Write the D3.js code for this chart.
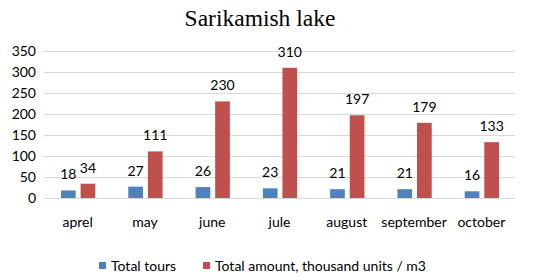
<!DOCTYPE html>
<html>
<head>
<meta charset="utf-8">
<script src="https://cdn.jsdelivr.net/npm/d3@7"></script>
<style>
  body { margin: 0; background: #fff; }
  svg { display: block; }
</style>
</head>
<body>
<div id="chart"></div>
<script>
// Sarikamish lake - grouped bars
const months = ["aprel", "may", "june", "jule", "august", "september", "october"];
const tours = [18, 27, 26, 23, 21, 21, 16];
const amount = [34, 111, 230, 310, 197, 179, 133];
const yTicks = [0, 50, 100, 150, 200, 250, 300, 350];
const seriesNames = ["Total tours", "Total amount, thousand units / m3"];
const colors = ["#4f81bd", "#c0504d"];

const W = 533, H = 278;
const margin = { top: 51, right: 18, bottom: 80, left: 44 };
const width = W - margin.left - margin.right;
const height = H - margin.top - margin.bottom;

const svg = d3.select("#chart").append("svg")
    .attr("width", W)
    .attr("height", H);

svg.append("text")
    .attr("x", 260)
    .attr("y", 26)
    .attr("text-anchor", "middle")
    .attr("font-family", "Liberation Serif, DejaVu Serif, serif")
    .attr("font-size", 23.5)
    .text("Sarikamish lake");

const g = svg.append("g").attr("transform", `translate(${margin.left},${margin.top})`);

const x = d3.scaleBand().domain(months).range([0, width]);
const xInner = d3.scaleBand().domain([0, 1]).range([17, x.bandwidth() - 16]).paddingInner(0.25);
const y = d3.scaleLinear().domain([0, 350]).range([height, 0]);

const font = "Lato, 'Open Sans', sans-serif";
const fs = "14px";

// grid
g.append("g")
    .call(d3.axisLeft(y).tickValues(yTicks).tickSize(-width).tickFormat(""))
    .call(a => a.select(".domain").remove())
    .call(a => a.selectAll("line").attr("stroke", "#d9d9d9"));

// y labels
g.append("g")
    .call(d3.axisLeft(y).tickValues(yTicks).tickSize(0).tickPadding(8))
    .call(a => a.select(".domain").remove())
    .call(a => a.selectAll("text").style("font-family", font).style("font-size", fs).attr("fill", "#000"));

// x labels
g.append("g")
    .attr("transform", `translate(0,${height})`)
    .call(d3.axisBottom(x).tickSize(0).tickPadding(19))
    .call(a => a.select(".domain").attr("stroke", "#d9d9d9"))
    .call(a => a.selectAll("text").style("font-family", font).style("font-size", fs).attr("fill", "#000"));

const data = months.map((m, i) => ({ month: m, values: [tours[i], amount[i]] }));

const groups = g.selectAll(".grp")
    .data(data)
    .enter().append("g")
    .attr("transform", d => `translate(${x(d.month)},0)`);

groups.selectAll("rect")
    .data(d => d.values.map((v, k) => ({ k, v })))
    .enter().append("rect")
    .attr("x", d => xInner(d.k))
    .attr("width", xInner.bandwidth())
    .attr("y", d => y(d.v))
    .attr("height", d => height - y(d.v))
    .attr("fill", d => colors[d.k]);

groups.selectAll("text.val")
    .data(d => d.values.map((v, k) => ({ k, v })))
    .enter().append("text")
    .attr("class", "val")
    .attr("x", d => xInner(d.k) + xInner.bandwidth() / 2)
    .attr("y", d => y(d.v) - 11)
    .attr("text-anchor", "middle")
    .style("font-family", font)
    .style("font-size", fs)
    .text(d => d.v);

// legend
const legendX = [99, 203];
const legend = svg.append("g").attr("transform", "translate(0,266)");
seriesNames.forEach((name, i) => {
    legend.append("rect")
        .attr("x", legendX[i])
        .attr("y", -4)
        .attr("width", 7)
        .attr("height", 7)
        .attr("fill", colors[i]);
    legend.append("text")
        .attr("x", legendX[i] + 12)
        .attr("y", 5)
        .style("font-family", font)
        .style("font-size", fs)
        .text(name);
});
</script>
</body>
</html>
